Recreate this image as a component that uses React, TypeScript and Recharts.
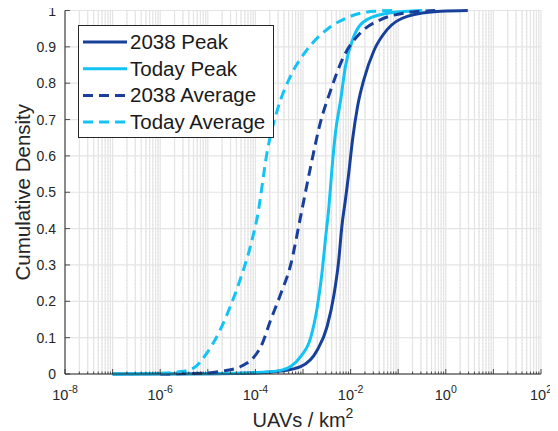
import { CartesianGrid, Legend, Line, LineChart, XAxis, YAxis } from "recharts";

const FONT = '"Liberation Sans", Arial, Helvetica, sans-serif';
const AXIS_COLOR = "#262626";
const DARK = "#18409a";
const LIGHT = "#12c3f4";

// x values are UAVs / km^2, y values are cumulative density
const peak2038X = [1e-7, 1e-5, 1e-4, 3.4e-4, 8.9e-4, 2.0e-3, 3.2e-3, 4.5e-3, 5.6e-3, 6.6e-3, 7.8e-3, 9.1e-3, 1.1e-2, 1.4e-2, 1.9e-2, 3.1e-2, 5.9e-2, 0.155, 0.78, 2.9];
const peak2038Y = [0, 0.001, 0.003, 0.008, 0.02, 0.066, 0.13, 0.22, 0.31, 0.41, 0.48, 0.55, 0.645, 0.736, 0.81, 0.89, 0.948, 0.984, 0.998, 1];

const peakTodayX = [1e-7, 1e-5, 1e-4, 3.4e-4, 8.9e-4, 1.45e-3, 2.0e-3, 2.5e-3, 2.95e-3, 3.5e-3, 4.1e-3, 4.8e-3, 6.2e-3, 7.8e-3, 1.17e-2, 2.2e-2, 6.9e-2, 0.32];
const peakTodayY = [0, 0.001, 0.004, 0.01, 0.048, 0.1, 0.185, 0.277, 0.369, 0.46, 0.571, 0.663, 0.755, 0.847, 0.929, 0.975, 0.994, 1];

const avg2038X = [1e-6, 1e-5, 2.0e-5, 4.8e-5, 1.3e-4, 2.1e-4, 3.4e-4, 5.5e-4, 8.9e-4, 1.45e-3, 2.3e-3, 3.8e-3, 7.2e-3, 1.6e-2, 4.3e-2, 0.155, 0.6];
const avg2038Y = [0, 0.003, 0.008, 0.02, 0.075, 0.149, 0.22, 0.3, 0.433, 0.571, 0.69, 0.78, 0.874, 0.938, 0.975, 0.994, 1];

const avgTodayX = [1e-7, 1e-6, 2.5e-6, 5.0e-6, 9.5e-6, 1.8e-5, 2.95e-5, 4.8e-5, 7.8e-5, 1.1e-4, 1.8e-4, 2.9e-4, 5.5e-4, 1.23e-3, 3.2e-3, 1.0e-2, 3.2e-2, 0.1];
const avgTodayY = [0, 0.002, 0.006, 0.016, 0.057, 0.12, 0.185, 0.26, 0.35, 0.433, 0.617, 0.727, 0.82, 0.893, 0.948, 0.984, 0.998, 1];

const majorExps = [-8, -7, -6, -5, -4, -3, -2, -1, 0, 1, 2];
const labelExps = [-8, -6, -4, -2, 0, 2];
const yTicks = [0, 0.1, 0.2, 0.3, 0.4, 0.5, 0.6, 0.7, 0.8, 0.9, 1];

const majorTicks = majorExps.map((e) => Math.pow(10, e));
const minorTicks: number[] = [];
majorExps.slice(0, -1).forEach((e) => {
  for (let k = 2; k <= 9; k++) minorTicks.push(k * Math.pow(10, e));
});
const allXTicks = [...majorTicks, ...minorTicks].sort((a, b) => a - b);

const zip = (xs: number[], ys: number[]) => xs.map((x, i) => ({ x, y: ys[i] }));

const series = [
  { name: "2038 Peak", data: zip(peak2038X, peak2038Y), color: DARK, dash: undefined },
  { name: "Today Peak", data: zip(peakTodayX, peakTodayY), color: LIGHT, dash: undefined },
  { name: "2038 Average", data: zip(avg2038X, avg2038Y), color: DARK, dash: "10 6" },
  { name: "Today Average", data: zip(avgTodayX, avgTodayY), color: LIGHT, dash: "10 6" },
];

const isMajor = (v: number) => Math.abs(Math.log10(v) - Math.round(Math.log10(v))) < 1e-9;

const BottomTick = (props: any) => {
  const { x, y, payload } = props;
  const v = payload.value as number;
  const major = isMajor(v);
  const exp = Math.round(Math.log10(v));
  return (
    <g>
      <line x1={x} x2={x} y1={y} y2={y - (major ? 5 : 2.5)} stroke={AXIS_COLOR} strokeWidth={0.8} />
      {major && labelExps.includes(exp) && (
        <text x={x} y={y + 26} textAnchor="middle" fontSize={14.5} fill={AXIS_COLOR} fontFamily={FONT}>
          10
          <tspan dy={-7} fontSize={10.5}>{exp}</tspan>
        </text>
      )}
    </g>
  );
};

const TopTick = (props: any) => {
  const { x, y, payload } = props;
  const major = isMajor(payload.value);
  return <line x1={x} x2={x} y1={y} y2={y + (major ? 5 : 2.5)} stroke={AXIS_COLOR} strokeWidth={0.8} />;
};

const LeftTick = (props: any) => {
  const { x, y, payload } = props;
  return (
    <g>
      <line x1={x} x2={x + 5} y1={y} y2={y} stroke={AXIS_COLOR} strokeWidth={0.8} />
      <text x={x - 9} y={y + 5} textAnchor="end" fontSize={14} fill={AXIS_COLOR} fontFamily={FONT}>
        {String(payload.value)}
      </text>
    </g>
  );
};

const RightTick = (props: any) => {
  const { x, y } = props;
  return <line x1={x} x2={x - 5} y1={y} y2={y} stroke={AXIS_COLOR} strokeWidth={0.8} />;
};

const renderLegend = () => (
  <svg width={196} height={113} style={{ display: "block" }}>
    <rect x={0.5} y={0.5} width={195} height={112} fill="#fff" stroke={AXIS_COLOR} strokeWidth={1} />
    {series.map((s, i) => {
      const cy = 17 + i * 26.7;
      return (
        <g key={s.name}>
          <line x1={5} x2={49} y1={cy} y2={cy} stroke={s.color} strokeWidth={3} strokeDasharray={s.dash} />
          <text x={52} y={cy + 7} fontSize={20.5} fill="#1a1a1a" fontFamily={FONT}>
            {s.name}
          </text>
        </g>
      );
    })}
  </svg>
);

const minorGrid = ({ xAxis, offset }: any) => {
  if (xAxis && typeof xAxis.scale === "function") {
    return minorTicks.map((v) => xAxis.scale(v));
  }
  return minorTicks.map((v) => offset.left + (offset.width * (Math.log10(v) + 8)) / 10);
};

export default function App() {
  return (
    <div style={{ width: 558, height: 431, margin: "-8px 0 0 -8px", background: "#fff" }}>
      <LineChart width={558} height={431} margin={{ top: 10.5, right: 17, bottom: 0, left: 0 }}>
        <CartesianGrid horizontal={false} verticalCoordinatesGenerator={minorGrid} stroke="#d6d6d6" strokeDasharray="1 2.5" strokeWidth={1} />
        <CartesianGrid stroke="#e4e4e4" strokeWidth={1.2} />
        <XAxis
          dataKey="x"
          type="number"
          scale="log"
          domain={[1e-8, 100]}
          ticks={allXTicks}
          allowDataOverflow
          interval={0}
          tickSize={0}
          tickMargin={0}
          height={57}
          stroke={AXIS_COLOR}
          tick={BottomTick}
          label={{
            content: (p: any) => {
              const vb = p.viewBox;
              return (
                <text x={vb.x + vb.width / 2} y={vb.y + 53} textAnchor="middle" fontSize={20} fill={AXIS_COLOR} fontFamily={FONT}>
                  UAVs / km
                  <tspan dy={-9} fontSize={14}>2</tspan>
                </text>
              );
            },
          }}
        />
        <XAxis
          xAxisId="top"
          orientation="top"
          dataKey="x"
          type="number"
          scale="log"
          domain={[1e-8, 100]}
          ticks={allXTicks}
          allowDataOverflow
          interval={0}
          tickSize={0}
          tickMargin={0}
          height={0}
          stroke={AXIS_COLOR}
          tick={TopTick}
        />
        <YAxis
          type="number"
          domain={[0, 1]}
          ticks={yTicks}
          interval={0}
          tickSize={0}
          tickMargin={0}
          width={65}
          stroke={AXIS_COLOR}
          tick={LeftTick}
          label={{
            content: (p: any) => {
              const vb = p.viewBox;
              const cx = 30;
              const cy = vb.y + vb.height / 2;
              return (
                <text x={cx} y={cy} textAnchor="middle" fontSize={20.5} fill={AXIS_COLOR} fontFamily={FONT} transform={`rotate(-90 ${cx} ${cy})`}>
                  Cumulative Density
                </text>
              );
            },
          }}
        />
        <YAxis
          yAxisId="right"
          orientation="right"
          type="number"
          domain={[0, 1]}
          ticks={yTicks}
          interval={0}
          tickSize={0}
          tickMargin={0}
          width={0}
          stroke={AXIS_COLOR}
          tick={RightTick}
        />
        <Legend
          layout="vertical"
          align="center"
          verticalAlign="middle"
          content={renderLegend}
          wrapperStyle={{ left: 78, top: 25, width: 196, height: 113 }}
        />
        {series.map((s) => (
          <Line
            key={s.name}
            data={s.data}
            dataKey="y"
            name={s.name}
            type="monotone"
            stroke={s.color}
            strokeWidth={3}
            strokeDasharray={s.dash}
            dot={false}
            activeDot={false}
            isAnimationActive={false}
          />
        ))}
      </LineChart>
    </div>
  );
}
